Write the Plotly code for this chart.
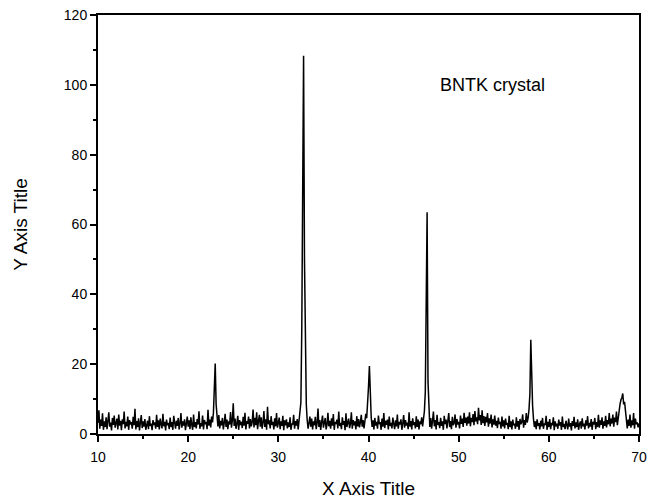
import numpy as np
import plotly.graph_objects as go

# XRD scan of the BNTK crystal: 2-theta from 10 to 70 deg, 0.1 deg steps
two_theta_start = 10.0
two_theta_step = 0.1

intensity = [
    # 10-11
    3.2, 6.8, 1.5, 4.1, 2.3, 5.9, 1.2, 3.6, 2.0, 4.8,
    1.4, 3.9, 6.2, 2.1, 3.3, 1.0, 4.6, 2.6, 5.3, 1.8,
    # 12-13
    3.0, 4.4, 1.3, 5.6, 2.4, 3.8, 1.1, 4.2, 2.8, 6.4,
    1.6, 3.5, 2.2, 5.0, 1.2, 4.0, 2.7, 3.4, 1.5, 4.9,
    # 14-15
    2.5, 7.2, 1.3, 3.7, 2.0, 4.5, 1.0, 3.1, 5.4, 1.7,
    3.6, 2.1, 4.3, 1.2, 2.9, 3.8, 1.4, 5.1, 2.3, 3.0,
    # 16-17
    1.1, 4.0, 2.6, 3.3, 1.5, 5.5, 2.0, 3.9, 1.3, 4.4,
    2.8, 1.6, 5.8, 2.2, 3.5, 1.0, 4.1, 2.5, 3.2, 1.4,
    # 18-19
    4.7, 2.0, 3.4, 1.2, 5.2, 2.9, 1.5, 3.8, 2.3, 4.6,
    1.3, 3.0, 6.0, 1.8, 3.6, 2.4, 4.2, 1.1, 3.3, 5.0,
    # 20-21
    2.1, 3.9, 1.4, 4.8, 2.6, 1.2, 5.6, 2.0, 3.4, 1.6,
    4.3, 2.7, 6.5, 1.5, 3.1, 2.2, 5.3, 1.3, 4.0, 2.8,
    # 22-23
    3.5, 1.4, 6.9, 2.4, 4.1, 1.9, 5.0, 3.3, 6.0, 11.5,
    20.2, 8.5, 4.0, 2.2, 5.4, 1.6, 3.8, 2.5, 4.6, 1.3,
    # 24-25
    3.2, 5.8, 2.0, 4.1, 1.4, 3.6, 2.7, 6.3, 1.8, 3.9,
    8.8, 2.3, 4.4, 1.5, 3.0, 5.2, 1.2, 4.0, 2.6, 3.5,
    # 26-27
    1.7, 4.9, 2.4, 6.1, 1.3, 3.7, 2.9, 5.0, 1.6, 4.3,
    2.2, 3.4, 7.0, 1.9, 4.6, 2.5, 6.2, 1.4, 3.8, 5.5,
    # 28-29
    2.1, 4.8, 1.5, 3.3, 6.6, 2.0, 4.2, 1.2, 7.8, 2.8,
    3.9, 1.6, 5.1, 2.6, 3.5, 1.3, 4.5, 2.2, 6.0, 1.8,
    # 30-31
    3.1, 4.7, 1.4, 3.6, 2.3, 5.2, 1.1, 3.9, 2.5, 4.2,
    1.6, 3.3, 2.0, 4.8, 1.2, 3.0, 2.7, 5.5, 1.5, 3.7,
    # 32-33
    2.4, 4.3, 1.3, 3.5, 6.0, 9.0, 30.0, 76.0, 108.3, 50.0,
    22.0, 8.5, 4.0, 1.5, 3.2, 5.0, 2.1, 4.4, 1.3, 3.6,
    # 34-35
    2.5, 4.9, 1.4, 3.1, 7.3, 2.0, 4.0, 1.2, 3.4, 5.3,
    1.8, 3.0, 4.6, 1.3, 2.7, 6.1, 2.2, 3.8, 1.5, 4.5,
    # 36-37
    2.4, 5.7, 1.2, 3.5, 2.9, 4.1, 1.6, 6.4, 2.3, 3.2,
    1.4, 4.8, 2.6, 3.7, 1.1, 5.9, 2.0, 3.3, 4.4, 1.7,
    # 38-39
    3.0, 6.2, 1.5, 4.0, 2.5, 3.6, 1.3, 5.1, 2.2, 4.3,
    1.9, 3.4, 5.5, 2.1, 4.0, 1.6, 3.2, 5.8, 4.5, 8.0,
    # 40-41
    13.5, 19.5, 10.0, 4.8, 2.0, 3.9, 1.3, 4.6, 2.4, 3.5,
    1.5, 5.3, 2.8, 3.4, 1.2, 4.4, 2.1, 6.0, 1.7, 3.8,
    # 42-43
    2.6, 4.1, 1.3, 5.0, 2.3, 3.2, 1.6, 4.7, 2.9, 1.4,
    3.9, 2.2, 5.6, 1.5, 3.5, 2.7, 4.2, 1.2, 3.0, 5.4,
    # 44-45
    1.8, 4.0, 2.4, 3.3, 1.4, 6.2, 2.1, 3.7, 1.3, 4.5,
    2.6, 3.4, 1.6, 5.1, 2.0, 4.1, 1.3, 3.6, 2.8, 4.8,
    # 46-47
    2.2, 5.0, 6.5, 12.0, 37.0, 63.5, 15.0, 5.2, 2.0, 4.6,
    1.5, 3.8, 6.4, 2.2, 4.0, 1.3, 5.5, 2.6, 3.4, 1.7,
    # 48-49
    4.6, 2.3, 3.6, 1.2, 5.2, 2.8, 4.1, 1.6, 3.3, 6.0,
    2.0, 3.7, 1.4, 4.9, 2.5, 3.1, 5.6, 1.8, 4.3, 2.7,
    # 50-51
    3.5, 1.6, 5.3, 2.9, 4.4, 2.0, 6.1, 3.2, 4.7, 2.4,
    5.0, 3.0, 6.2, 2.2, 4.6, 3.4, 5.7, 2.5, 6.6, 3.6,
    # 52-53
    4.8, 2.8, 7.5, 3.9, 5.4, 2.6, 6.8, 3.1, 5.1, 2.3,
    4.9, 3.3, 6.0, 2.1, 4.5, 3.0, 5.6, 1.9, 4.2, 2.7,
    # 54-55
    5.3, 2.4, 3.8, 1.7, 4.7, 2.9, 3.5, 1.5, 5.0, 2.2,
    3.9, 1.6, 4.4, 2.6, 3.2, 1.4, 5.2, 2.0, 3.6, 1.3,
    # 56-57
    4.1, 2.5, 3.0, 1.5, 4.8, 2.1, 3.7, 1.2, 4.3, 2.8,
    3.4, 5.6, 1.8, 4.0, 2.6, 6.0, 3.3, 4.6, 7.0, 11.5,
    # 58-59
    27.0, 15.5, 8.0, 4.2, 2.0, 3.6, 1.4, 4.2, 2.4, 3.1,
    1.3, 3.8, 2.2, 4.6, 1.5, 3.0, 2.6, 5.2, 1.2, 3.5,
    # 60-61
    2.0, 4.3, 1.4, 3.2, 2.5, 4.8, 1.1, 3.6, 2.2, 3.0,
    1.5, 4.1, 2.4, 3.4, 1.2, 5.0, 2.0, 2.9, 1.4, 3.8,
    # 62-63
    2.6, 1.3, 4.4, 2.1, 3.1, 1.0, 3.7, 2.3, 4.9, 1.6,
    3.3, 2.0, 4.2, 1.2, 2.8, 3.6, 1.5, 4.5, 2.2, 3.0,
    # 64-65
    1.3, 3.9, 2.4, 5.1, 1.6, 3.2, 2.1, 4.3, 1.2, 3.5,
    2.7, 4.6, 1.4, 3.4, 2.0, 5.5, 1.8, 3.9, 2.6, 4.8,
    # 66-67
    1.5, 3.6, 2.3, 5.2, 1.9, 4.0, 2.8, 6.0, 2.2, 4.4,
    3.0, 5.6, 2.1, 4.7, 3.4, 6.4, 2.5, 5.0, 6.8, 8.6,
    # 68-69
    9.8, 10.4, 11.6, 8.5, 9.2, 6.0, 4.0, 1.6, 4.1, 2.3,
    5.6, 1.8, 3.9, 2.5, 6.0, 1.5, 4.4, 2.8, 3.3, 1.9,
    # 70
    3.0,
]

two_theta = two_theta_start + two_theta_step * np.arange(len(intensity))

x_range = [10, 70]
y_range = [0, 120]
sample_label = "BNTK crystal"
label_pos = (53.8, 100)

font_family = "Arial, 'Liberation Sans', Helvetica, sans-serif"

fig = go.Figure()
fig.add_trace(go.Scatter(
    x=two_theta,
    y=intensity,
    mode="lines",
    line=dict(color="black", width=1.5),
    showlegend=False,
    hoverinfo="x+y",
))

fig.add_annotation(
    x=label_pos[0], y=label_pos[1],
    text=sample_label,
    showarrow=False,
    font=dict(family=font_family, size=18, color="black"),
)

axis_common = dict(
    showline=True,
    linecolor="black",
    linewidth=2,
    mirror=True,
    showgrid=False,
    zeroline=False,
    automargin=False,
    ticks="outside",
    ticklen=6,
    tickwidth=1.5,
    tickcolor="black",
    tickfont=dict(family=font_family, size=14, color="black"),
)

fig.update_xaxes(
    range=x_range,
    dtick=10,
    tick0=10,
    ticklabelstandoff=3,
    minor=dict(ticks="outside", ticklen=3, dtick=5, tick0=10, tickcolor="black", tickwidth=1.5),
    title=dict(text="X Axis Title", font=dict(family=font_family, size=19, color="black"), standoff=18),
    **axis_common,
)
fig.update_yaxes(
    range=y_range,
    dtick=20,
    tick0=0,
    minor=dict(ticks="outside", ticklen=3, dtick=10, tick0=0, tickcolor="black", tickwidth=1.5),
    title=dict(text="Y Axis Title", font=dict(family=font_family, size=19, color="black"), standoff=31),
    **axis_common,
)

fig.update_layout(
    width=647,
    height=500,
    margin=dict(l=98, r=8, t=15, b=66),
    plot_bgcolor="white",
    paper_bgcolor="white",
)

fig.write_html("out.html")
